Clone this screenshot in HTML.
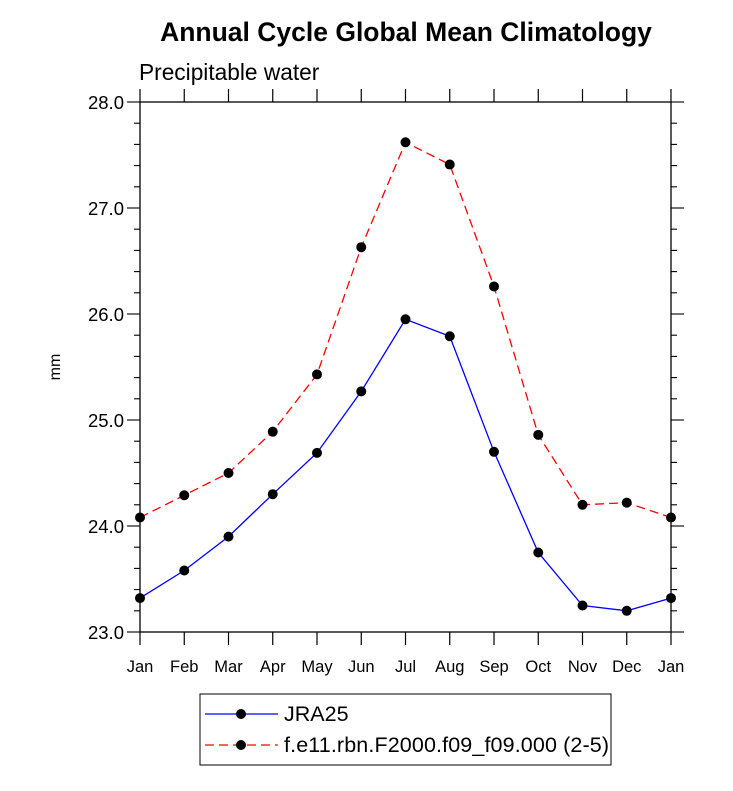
<!DOCTYPE html>
<html><head><meta charset="utf-8"><style>
body{margin:0;background:#fff;font-family:"Liberation Sans",sans-serif;}
</style></head><body>
<svg width="733" height="786" xmlns="http://www.w3.org/2000/svg" font-family="Liberation Sans, sans-serif">
<text x="406" y="41" text-anchor="middle" font-size="26.5" font-weight="bold">Annual Cycle Global Mean Climatology</text>
<text x="139" y="80" font-size="22.7">Precipitable water</text>
<text x="60" y="367" font-size="16" text-anchor="middle" transform="rotate(-90 60 367)">mm</text>
<g id="axes"></g>
<g id="series"></g>
<g>
<rect x="200" y="694" width="411" height="71" fill="none" stroke="#000" stroke-width="1"/>
<line x1="205" y1="714" x2="278" y2="714" stroke="#00f" stroke-width="1.3"/>
<circle cx="241" cy="714" r="5" fill="#000"/>
<text x="284" y="721" font-size="21.5">JRA25</text>
<line x1="205" y1="745" x2="278" y2="745" stroke="#f00" stroke-width="1.3" stroke-dasharray="9,5"/>
<circle cx="241" cy="745" r="5" fill="#000"/>
<text x="284" y="752" font-size="21.5" textLength="325">f.e11.rbn.F2000.f09_f09.000 (2-5)</text>
</g>
</svg>
<script>
const months=["Jan","Feb","Mar","Apr","May","Jun","Jul","Aug","Sep","Oct","Nov","Dec","Jan"];
const jra25=[23.32,23.58,23.90,24.30,24.69,25.27,25.95,25.79,24.70,23.75,23.25,23.20,23.32];
const model=[24.08,24.29,24.50,24.89,25.43,26.63,27.62,27.41,26.26,24.86,24.20,24.22,24.08];
const yTicks=["23.0","24.0","25.0","26.0","27.0","28.0"];
const L=140,R=671,T=102,B=632,ymin=23,ymax=28;
const NS="http://www.w3.org/2000/svg";
function xs(i){return L+(R-L)*i/(months.length-1);}
function ys(v){return B-(B-T)*(v-ymin)/(ymax-ymin);}
function mk(tag,attrs,parent){const e=document.createElementNS(NS,tag);for(const k in attrs)e.setAttribute(k,attrs[k]);parent.appendChild(e);return e;}
const ax=document.getElementById('axes');
const fr=mk('rect',{x:L,y:T,width:R-L,height:B-T,fill:'none',stroke:'#000','stroke-width':1.3},ax);


months.forEach((m,i)=>{
 const x=xs(i);
 mk('line',{x1:x,y1:B,x2:x,y2:B+13,stroke:'#000','stroke-width':1.2},ax);
 mk('line',{x1:x,y1:T,x2:x,y2:T-13,stroke:'#000','stroke-width':1.2},ax);
 const t=mk('text',{x:x,y:B+40,'text-anchor':'middle','font-size':16.5},ax);
 t.textContent=m;
 
 
});
for(let k=0;k<=25;k++){
 const v=ymin+k*0.2,y=ys(v),major=k%5===0,len=major?13:6;
 mk('line',{x1:L,y1:y,x2:L-len,y2:y,stroke:'#000','stroke-width':1.1},ax);
 mk('line',{x1:R,y1:y,x2:R+len,y2:y,stroke:'#000','stroke-width':1.1},ax);
}
yTicks.forEach(s=>{
 const t=mk('text',{x:L-16,y:ys(parseFloat(s))+7,'text-anchor':'end','font-size':18.5},ax);
 t.textContent=s;
 
 
});
const sg=document.getElementById('series');
function draw(vals,color,dash,name){
 const g=mk('g',{},sg);
 
 
 const p=mk('polyline',{points:vals.map((v,i)=>xs(i)+','+ys(v)).join(' '),fill:'none',stroke:color,'stroke-width':1.3},g);
 if(dash)p.setAttribute('stroke-dasharray',dash);
 vals.forEach((v,i)=>{
  const c=mk('circle',{cx:xs(i),cy:ys(v),r:5,fill:'#000'},g);
  
  
 });
}
draw(jra25,'#00f',null,'series-jra25');
draw(model,'#f00','9,5','series-model');
</script>
</body></html>
